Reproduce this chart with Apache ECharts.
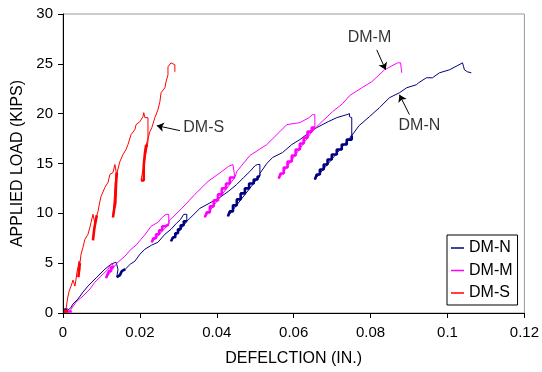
<!DOCTYPE html>
<html><head><meta charset="utf-8">
<script src="https://cdn.jsdelivr.net/npm/echarts/dist/echarts.min.js"></script>
<style>html,body{margin:0;padding:0;background:#fff}#c{width:542px;height:372px}</style>
</head><body><div id="c"></div>
<script>
// ---------- DATA (deflection in., load kips) ----------
const xTicks = [0, 0.02, 0.04, 0.06, 0.08, 0.1, 0.12];
const yTicks = [0, 5, 10, 15, 20, 25, 30];

// DM-N
const dmN_base = [[0.0003,0.35],[0.0012,0.35]];
const dmN_load1 = [[0.0005,0],[0.0013,0.3],[0.0020,0.5],[0.0026,0.9],[0.0039,1.4],[0.0052,2.1],[0.0065,2.7],[0.0088,3.6],[0.0109,4.4],[0.0125,4.9],[0.0138,5.1],[0.0143,5.1],[0.0143,4.4]];
const dmN_reload1 = [[0.0140,3.6],[0.0143,3.6],[0.0143,3.8],[0.0148,3.8],[0.0148,4.0],[0.0153,4.0],[0.0153,4.2],[0.0158,4.2],[0.0158,4.4],[0.0162,4.4]];
const dmN_load2 = [[0.0175,4.9],[0.0187,5.2],[0.0200,5.9],[0.0213,6.4],[0.0230,6.8],[0.0247,7.1],[0.0265,7.9],[0.0281,8.4],[0.0295,9.0],[0.0306,9.4],[0.0314,9.9],[0.0322,9.9],[0.0322,9.2]];
const dmN_reload2 = [[0.0281,7.2],[0.0286,7.2],[0.0286,7.6],[0.0292,7.6],[0.0292,8.0],[0.0299,8.0],[0.0299,8.4],[0.0306,8.4],[0.0306,8.8],[0.0314,8.8],[0.0314,9.2],[0.0322,9.2]];
const dmN_load3 = [[0.0330,9.5],[0.0356,10.5],[0.0380,11.0],[0.0408,11.6],[0.0430,12.2],[0.0452,12.9],[0.0470,13.6],[0.0486,14.2],[0.0500,14.8],[0.0506,14.9],[0.0512,14.9],[0.0512,13.8]];
const dmN_reload3 = [[0.0429,9.7],[0.0434,9.7],[0.0434,10.2],[0.0442,10.2],[0.0442,10.8],[0.0452,10.8],[0.0452,11.4],[0.0462,11.4],[0.0462,12.0],[0.0473,12.0],[0.0473,12.5],[0.0484,12.5],[0.0484,13.0],[0.0496,13.0],[0.0496,13.4],[0.0506,13.4],[0.0506,13.7],[0.0512,13.7]];
const dmN_load4 = [[0.0512,14.0],[0.0530,15.0],[0.0545,15.6],[0.0571,16.1],[0.0595,16.9],[0.0616,17.4],[0.0640,18.1],[0.0660,18.6],[0.0690,19.2],[0.0712,19.6],[0.0738,19.9],[0.0745,20.0],[0.0745,19.7],[0.0751,19.6],[0.0751,17.8]];
const dmN_reload4 = [[0.0655,13.4],[0.0660,13.4],[0.0660,13.9],[0.0668,13.9],[0.0668,14.4],[0.0678,14.4],[0.0678,14.9],[0.0688,14.9],[0.0688,15.4],[0.0699,15.4],[0.0699,15.9],[0.0712,15.9],[0.0712,16.4],[0.0725,16.4],[0.0725,16.9],[0.0738,16.9],[0.0738,17.4],[0.0751,17.4],[0.0751,17.8]];
const dmN_load5 = [[0.0753,17.9],[0.0770,18.8],[0.0797,19.7],[0.0823,20.6],[0.0849,21.6],[0.0875,22.1],[0.0894,22.6],[0.0919,22.9],[0.0925,23.1],[0.0945,23.6],[0.0961,23.6],[0.0979,24.1],[0.1005,24.4],[0.1025,24.8],[0.1039,25.1],[0.1042,24.7],[0.1044,24.4],[0.1052,24.2],[0.1062,24.1]];

// DM-M
const dmM_base = [[0.0013,0.15],[0.0023,0.15]];
const dmM_load1 = [[0.0008,0],[0.0018,0.2],[0.0034,1.1],[0.0052,1.7],[0.0070,2.4],[0.0083,3.1],[0.0099,3.7],[0.0117,4.4],[0.0127,5.0],[0.0132,5.0],[0.0132,4.6]];
const dmM_reload1 = [[0.0112,3.5],[0.0115,3.5],[0.0115,3.8],[0.0119,3.8],[0.0119,4.2],[0.0125,4.2],[0.0125,4.6],[0.0132,4.6]];
const dmM_load2 = [[0.0143,5.1],[0.0161,5.7],[0.0177,6.4],[0.0190,6.8],[0.0203,7.4],[0.0216,8.0],[0.0229,8.7],[0.0247,9.1],[0.0258,9.6],[0.0268,9.9],[0.0275,9.9],[0.0275,8.9]];
const dmM_reload2 = [[0.0231,7.1],[0.0235,7.1],[0.0235,7.5],[0.0242,7.5],[0.0242,7.9],[0.0250,7.9],[0.0250,8.3],[0.0258,8.3],[0.0258,8.7],[0.0266,8.7],[0.0266,8.9],[0.0275,8.9]];
const dmM_load3 = [[0.0277,9.3],[0.0309,10.5],[0.0343,11.9],[0.0377,13.2],[0.0413,14.2],[0.0430,14.7],[0.0442,14.9],[0.0447,14.9],[0.0447,13.6]];
const dmM_reload3 = [[0.0369,9.6],[0.0374,9.6],[0.0374,10.1],[0.0382,10.1],[0.0382,10.7],[0.0392,10.7],[0.0392,11.3],[0.0403,11.3],[0.0403,11.9],[0.0413,11.9],[0.0413,12.5],[0.0424,12.5],[0.0424,13.0],[0.0434,13.0],[0.0434,13.6],[0.0447,13.6]];
const dmM_load4 = [[0.0452,14.2],[0.0486,15.8],[0.0510,16.4],[0.0530,16.9],[0.0564,18.2],[0.0582,18.9],[0.0616,19.1],[0.0640,19.6],[0.0649,19.9],[0.0655,19.9],[0.0655,18.6]];
const dmM_reload4 = [[0.0561,13.5],[0.0566,13.5],[0.0566,14.0],[0.0574,14.0],[0.0574,14.6],[0.0584,14.6],[0.0584,15.2],[0.0595,15.2],[0.0595,15.8],[0.0605,15.8],[0.0605,16.4],[0.0616,16.4],[0.0616,17.0],[0.0626,17.0],[0.0626,17.6],[0.0636,17.6],[0.0636,18.2],[0.0647,18.2],[0.0647,18.6],[0.0655,18.6]];
const dmM_load5 = [[0.0642,18.0],[0.0668,19.0],[0.0701,20.2],[0.0727,21.0],[0.0745,21.8],[0.0777,22.6],[0.0803,23.2],[0.0836,24.4],[0.0870,25.1],[0.0878,25.1],[0.0881,24.1]];

// DM-S
const dmS_base = [[0.0002,0.15],[0.0013,0.15]];
const dmS_load1 = [[0.0003,0],[0.0008,0.4],[0.0010,0.2],[0.0012,1.5],[0.0016,2.2],[0.0021,2.7],[0.0026,3.3],[0.0031,3.4],[0.0031,2.7],[0.0034,3.4],[0.0036,4.0],[0.0039,4.6],[0.0042,5.2],[0.0044,5.2],[0.0044,4.4]];
const dmS_reload1 = [[0.0040,3.6],[0.0042,3.6],[0.0042,4.4],[0.0044,4.4],[0.0044,5.0]];
const dmS_load2 = [[0.0047,5.9],[0.0052,6.6],[0.0057,7.4],[0.0065,7.9],[0.0070,8.6],[0.0073,9.1],[0.0078,9.9],[0.0083,9.9],[0.0083,9.0]];
const dmS_reload2 = [[0.0078,7.3],[0.0080,7.3],[0.0080,8.0],[0.0082,8.0],[0.0082,8.6],[0.0085,8.6],[0.0085,9.2],[0.0088,9.2],[0.0088,9.8]];
const dmS_load3 = [[0.0091,10.2],[0.0096,11.2],[0.0099,11.7],[0.0109,12.6],[0.0117,13.1],[0.0122,13.9],[0.0130,14.1],[0.0135,14.9],[0.0138,14.9],[0.0138,14.2]];
const dmS_reload3 = [[0.0130,9.6],[0.0133,9.6],[0.0133,10.4],[0.0136,10.4],[0.0136,11.0],[0.0138,11.0],[0.0138,13.0],[0.0140,13.0],[0.0140,14.0],[0.0143,14.0]];
const dmS_load4 = [[0.0143,14.2],[0.0148,15.2],[0.0156,15.9],[0.0164,16.4],[0.0169,16.9],[0.0177,17.9],[0.0187,18.4],[0.0190,18.9],[0.0200,19.2],[0.0208,19.7],[0.0210,20.1],[0.0213,19.6],[0.0221,19.6],[0.0221,17.2]];
const dmS_reload4 = [[0.0203,13.3],[0.0210,13.3],[0.0210,14.8],[0.0213,14.8],[0.0213,16.0],[0.0216,16.0],[0.0216,16.8],[0.0221,16.8]];
const dmS_load5 = [[0.0226,18.2],[0.0231,18.6],[0.0239,19.6],[0.0247,20.4],[0.0252,21.2],[0.0255,22.1],[0.0265,22.6],[0.0268,23.2],[0.0273,23.9],[0.0273,24.7],[0.0281,25.1],[0.0286,25.1],[0.0286,24.9],[0.0291,24.9],[0.0291,24.2]];

// annotations
const labelNames = ['DM-S', 'DM-M', 'DM-N'];
const labelAt = [[0.0366, 18.6], [0.0797, 27.65], [0.0927, 18.8]];
const arrowFrom = [[0.0304, 18.3], [0.0816, 26.4], [0.0901, 19.9]];
const arrowTo = [[0.0244, 18.8], [0.0839, 24.4], [0.0875, 21.9]];

// ---------- CHART ----------
const FONT = 'Liberation Sans, Arial, sans-serif';
const curves = [
  { name: 'DM-N', color: '#000080', base: dmN_base,
    loads: [dmN_load1, dmN_load2, dmN_load3, dmN_load4, dmN_load5],
    reloads: [dmN_reload1, dmN_reload2, dmN_reload3, dmN_reload4] },
  { name: 'DM-M', color: '#FF00FF', base: dmM_base,
    loads: [dmM_load1, dmM_load2, dmM_load3, dmM_load4, dmM_load5],
    reloads: [dmM_reload1, dmM_reload2, dmM_reload3, dmM_reload4] },
  { name: 'DM-S', color: '#FF0000', base: dmS_base,
    loads: [dmS_load1, dmS_load2, dmS_load3, dmS_load4, dmS_load5],
    reloads: [dmS_reload1, dmS_reload2, dmS_reload3, dmS_reload4] }
];

const series = [];
curves.forEach(c => {
  let path = [];
  c.loads.forEach((seg, i) => {
    path = path.concat(seg);
    if (c.reloads[i]) path = path.concat(c.reloads[i]);
  });
  series.push({ name: c.name, type: 'line', data: path, symbol: 'none', showSymbol: false,
    lineStyle: { color: c.color, width: 1 }, itemStyle: { color: c.color }, z: 3 });
  c.reloads.concat([c.base]).forEach((seg, i) => {
    series.push({ name: c.name + '-r' + i, type: 'line', data: seg, symbol: 'none', showSymbol: false,
      lineStyle: { color: c.color, width: 2.6 }, itemStyle: { color: c.color }, z: 3 });
  });
});

series.push({
  type: 'lines', coordinateSystem: 'cartesian2d', z: 5,
  symbol: ['none', 'arrow'], symbolSize: [0, 7],
  lineStyle: { color: '#000', width: 1, opacity: 1 },
  data: arrowFrom.map((f, i) => ({ coords: [f, arrowTo[i]] }))
});
series.push({
  type: 'scatter', z: 6, symbolSize: 1, itemStyle: { color: 'rgba(0,0,0,0)' },
  label: { show: true, position: 'inside', color: '#000', fontSize: 16, fontFamily: FONT,
    formatter: p => p.name },
  data: labelNames.map((n, i) => ({ name: n, value: labelAt[i] }))
});

const chart = echarts.init(document.getElementById('c'), null, { renderer: 'canvas' });
chart.setOption({
  animation: false,
  backgroundColor: '#fff',
  grid: { left: 63, right: 17, top: 14, bottom: 58, show: true, borderColor: '#999', borderWidth: 1, backgroundColor: 'transparent' },
  xAxis: {
    type: 'value', min: xTicks[0], max: xTicks[xTicks.length - 1], interval: xTicks[1] - xTicks[0],
    name: 'DEFELCTION (IN.)', nameLocation: 'middle', nameGap: 38,
    nameTextStyle: { fontSize: 16, color: '#000', fontFamily: FONT },
    axisLine: { lineStyle: { color: '#000', width: 1 } },
    axisTick: { show: true, inside: false, length: 5, lineStyle: { color: '#000' } },
    axisLabel: { fontSize: 15, color: '#000', fontFamily: FONT, margin: 12 },
    splitLine: { show: false }
  },
  yAxis: {
    type: 'value', min: yTicks[0], max: yTicks[yTicks.length - 1], interval: yTicks[1] - yTicks[0],
    name: 'APPLIED LOAD (KIPS)', nameLocation: 'middle', nameGap: 35, nameRotate: 90,
    nameTextStyle: { fontSize: 16, color: '#000', fontFamily: FONT },
    axisLine: { show: true, lineStyle: { color: '#000', width: 1 } },
    axisTick: { show: true, inside: false, length: 5, lineStyle: { color: '#000' } },
    axisLabel: { fontSize: 15, color: '#000', fontFamily: FONT, margin: 10 },
    splitLine: { show: false }
  },
  legend: {
    data: ['DM-N', 'DM-M', 'DM-S'], orient: 'vertical', left: 447, top: 235,
    backgroundColor: '#fff', borderColor: '#000', borderWidth: 1, padding: [5, 5, 4, 4],
    icon: 'rect', itemWidth: 13, itemHeight: 1.5, itemGap: 6.5,
    textStyle: { fontSize: 16, color: '#000', fontFamily: FONT, lineHeight: 16 }
  },
  series: series
});
</script></body></html>
